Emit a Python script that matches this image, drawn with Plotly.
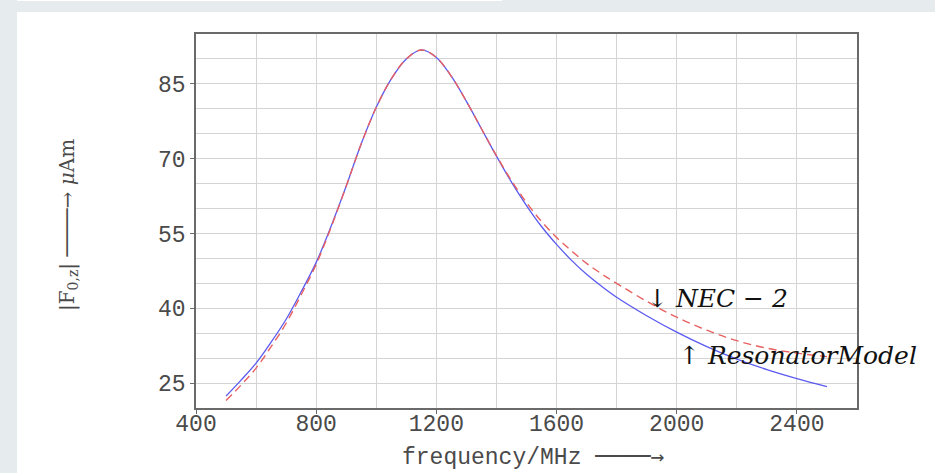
import plotly.graph_objects as go

# ---- data ----
freq_res = [500, 550, 600, 650, 700, 750, 800, 850, 900, 950, 1000, 1050, 1100, 1150,
            1200, 1250, 1300, 1350, 1400, 1450, 1500, 1550, 1600, 1650, 1700, 1750, 1800,
            1900, 2000, 2100, 2200, 2300, 2400, 2500]
resonator = [22.4, 25.6, 29.0, 33.2, 37.8, 43.3, 49.2, 56.5, 64.5, 73.0, 80.3, 86.0, 90.0, 91.8,
             90.3, 86.5, 81.5, 76.0, 70.5, 65.3, 60.6, 56.4, 52.8, 49.6, 46.8, 44.4, 42.2,
             38.5, 35.2, 32.3, 29.8, 27.7, 25.9, 24.3]

freq_nec = [500, 550, 600, 650, 700, 750, 800, 850, 900, 950, 1000, 1050, 1100, 1150,
            1200, 1250, 1300, 1350, 1400, 1450, 1500, 1550, 1600, 1650, 1700, 1750, 1800,
            1900, 2000, 2100, 2200, 2300, 2400, 2500]
nec2 = [21.5, 24.6, 28.0, 32.3, 37.0, 42.7, 48.8, 56.3, 64.5, 73.0, 80.3, 86.0, 90.0, 91.8,
        90.3, 86.5, 81.5, 76.0, 70.6, 65.6, 61.2, 57.4, 54.2, 51.5, 49.0, 46.9, 45.0,
        41.4, 38.2, 35.6, 33.5, 32.0, 31.0, 30.3]

x_ticks = [400, 800, 1200, 1600, 2000, 2400]
y_ticks = [25, 40, 55, 70, 85]

mono = "Liberation Mono, DejaVu Sans Mono, monospace"
serif = "DejaVu Serif, Liberation Serif, serif"
label_col = "#4a4a4a"

fig = go.Figure()
fig.add_trace(go.Scatter(x=freq_res, y=resonator, mode="lines", line_shape="spline",
                         line=dict(color="#5a5af0", width=1.3), showlegend=False))
fig.add_trace(go.Scatter(x=freq_nec, y=nec2, mode="lines", line_shape="spline",
                         line=dict(color="#e86060", width=1.4, dash="8px,5px"),
                         showlegend=False))

grid = "#d4d4d4"
fig.update_xaxes(range=[400, 2600], tickvals=x_ticks, ticktext=[str(v) for v in x_ticks],
                 showgrid=True, gridcolor=grid, gridwidth=1,
                 minor=dict(dtick=200, tick0=400, showgrid=True, gridcolor=grid, gridwidth=1, ticks=""),
                 showline=True, mirror=True, linecolor="#6a6a6a", linewidth=1.5,
                 ticks="outside", ticklen=4, tickcolor="#6a6a6a", ticklabelstandoff=-10,
                 tickfont=dict(family=mono, size=23, color=label_col),
                 zeroline=False, automargin=False)
fig.update_yaxes(range=[20, 95], tickvals=y_ticks, ticktext=[str(v) for v in y_ticks],
                 showgrid=True, gridcolor=grid, gridwidth=1,
                 minor=dict(dtick=5, tick0=20, showgrid=True, gridcolor=grid, gridwidth=1, ticks=""),
                 showline=True, mirror=True, linecolor="#6a6a6a", linewidth=1.5,
                 ticks="outside", ticklen=4, tickcolor="#6a6a6a",
                 tickfont=dict(family=mono, size=23, color=label_col),
                 zeroline=False, automargin=False)

# axis titles
fig.add_annotation(x=0.5113, y=-0.131, xref="paper", yref="paper", xanchor="center",
                   yanchor="middle",
                   text="frequency/MHz <span style=\"font-family:'DejaVu Sans Mono'\">────→</span>",
                   showarrow=False, font=dict(family=mono, size=23, color=label_col))
fig.add_annotation(x=-0.1936, y=0.4893, xref="paper", yref="paper", xanchor="center",
                   yanchor="middle", textangle=-90,
                   text="|F<sub>0,z</sub>| ────→ <i>μ</i>Am", showarrow=False,
                   font=dict(family=serif, size=20, color=label_col))

# curve labels
fig.add_annotation(x=1893, y=42, xref="x", yref="y", xanchor="left", yanchor="middle",
                   text="↓ <i>NEC − 2</i>", showarrow=False,
                   font=dict(family=serif, size=25, color="#111111"))
fig.add_annotation(x=2002, y=30.6, xref="x", yref="y", xanchor="left", yanchor="middle",
                   text="↑ <i>ResonatorModel</i>", showarrow=False,
                   font=dict(family=serif, size=25, color="#111111"))

# white panel over the grey page background
fig.add_shape(type="rect", xref="paper", yref="paper", x0=-0.2708, x1=1.2, y0=-0.2,
              y1=1.0588, fillcolor="white", line_width=0, layer="below")
fig.add_shape(type="rect", xref="paper", yref="paper", x0=-0.2708, x1=0.4629, y0=1.0882,
              y1=1.2, fillcolor="white", line_width=0, layer="below")

fig.update_layout(width=935, height=473, margin=dict(l=196, r=78, t=34, b=65),
                  paper_bgcolor="#e6ebee", plot_bgcolor="white")

fig.write_html("out.html", config={"displayModeBar": False},
               post_script="document.body.style.margin='0';")
